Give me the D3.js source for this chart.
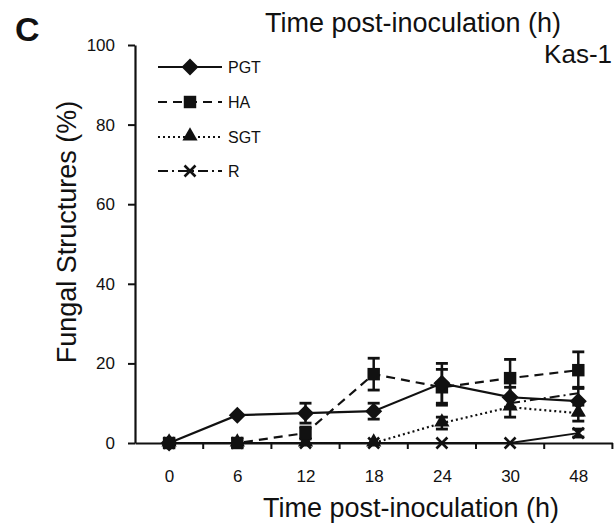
<!DOCTYPE html>
<html>
<head>
<meta charset="utf-8">
<script src="https://cdn.jsdelivr.net/npm/d3@7"></script>
<style>
  body { margin: 0; background: #fff; }
  svg text { font-family: "Liberation Sans", Arial, sans-serif; fill: #111; }
</style>
</head>
<body>
<svg id="chart" width="616" height="532"></svg>
<script>
// time points (h), shown as evenly spaced categories
var hours = ["0", "6", "12", "18", "24", "30", "48"]
var yTicks = [0, 20, 40, 60, 80, 100]

// mean % of fungal structures and error bars
var pgt = [0, 7, 7.5, 8, 15, 11.5, 10.5]
var pgtErr = [0, 0, 2.5, 2, 5, 2.5, 3.5]
var ha = [0, 0, 2.5, 17.3, 14, 16.3, 18.3]
var haErr = [0, 0, 1.5, 4, 4.5, 4.7, 4.6]
var sgt = [0, 0, 0, 0, 5, 9, 7.5]
var sgtErr = [0, 0, 0, 0, 1.5, 2.5, 2]
var r = [0, 0, 0, 0, 0, 0, 2.5]
var rErr = [0, 0, 0, 0, 0, 0, 1]
// stray dash-dot segment visible between 30 h and 48 h
var rUpper = [null, null, null, null, null, 10, 12.5]

var svg = d3.select("#chart")

var x = d3.scalePoint().domain(hours).range([135, 612.4]).padding(0.5)
var band = d3.scaleBand().domain(hours).range([135, 612.4])
var y = d3.scaleLinear().domain([0, 100]).range([443, 45])

// custom X marker (stroked)
var timesSymbol = {
    draw: function(ctx, size) {
        var h = Math.sqrt(size) / 2
        ctx.moveTo(-h, -h); ctx.lineTo(h, h)
        ctx.moveTo(h, -h); ctx.lineTo(-h, h)
    }
}

// plotDash is what the plotted line uses, dash what the legend shows
var series = [
    { name: "PGT", vals: pgt, err: pgtErr, dash: null, plotDash: null, shape: "diamond" },
    { name: "HA", vals: ha, err: haErr, dash: "9,6", plotDash: "9,6", shape: "square" },
    { name: "SGT", vals: sgt, err: sgtErr, dash: "2,3", plotDash: "2,3", shape: "triangle" },
    { name: "R", vals: r, err: rErr, dash: "10,4,2,4", plotDash: null, shape: "times" }
]

function drawMarker(g, shape, cx, cy) {
    if (shape == "diamond") {
        g.append("path").attr("d", d3.symbol(d3.symbolSquare, 145)())
            .attr("transform", "translate(" + cx + "," + cy + ") rotate(45)")
            .attr("fill", "#111")
    } else if (shape == "square") {
        g.append("path").attr("d", d3.symbol(d3.symbolSquare, 155)())
            .attr("transform", "translate(" + cx + "," + cy + ")")
            .attr("fill", "#111")
    } else if (shape == "triangle") {
        g.append("path").attr("d", d3.symbol(d3.symbolTriangle, 100)())
            .attr("transform", "translate(" + cx + "," + (cy - 1) + ")")
            .attr("fill", "#111")
    } else {
        g.append("path").attr("d", d3.symbol(timesSymbol, 120)())
            .attr("transform", "translate(" + cx + "," + cy + ")")
            .attr("fill", "none").attr("stroke", "#111").attr("stroke-width", 2.6)
    }
}

// axes
var yAxis = svg.append("g").attr("transform", "translate(135,0)")
    .call(d3.axisLeft(y).tickValues(yTicks).tickSize(7).tickPadding(13).tickSizeOuter(0))
yAxis.select(".domain").attr("stroke", "#111").attr("stroke-width", 2.2)
yAxis.selectAll(".tick line").attr("stroke", "#111").attr("stroke-width", 2)
yAxis.selectAll(".tick text").style("font-size", "17px").attr("fill", "#222")

var xAxis = svg.append("g").attr("transform", "translate(0," + y(0) + ")")
    .call(d3.axisBottom(x).tickSize(0).tickPadding(27).tickSizeOuter(0))
xAxis.select(".domain").attr("stroke", "#111").attr("stroke-width", 2.2)
xAxis.selectAll(".tick text").style("font-size", "17px").attr("fill", "#222")
// small ticks between the time points
xAxis.selectAll(".sep").data(hours.slice(1).concat(["end"]))
    .enter().append("line")
    .attr("x1", function(d, i) { return band(hours[0]) + band.step() * (i + 1) })
    .attr("x2", function(d, i) { return band(hours[0]) + band.step() * (i + 1) })
    .attr("y1", 0).attr("y2", 6)
    .attr("stroke", "#111").attr("stroke-width", 2)

// lines
var line = d3.line()
    .defined(function(d) { return d != null })
    .x(function(d, i) { return x(hours[i]) })
    .y(function(d) { return y(d) })

var plot = svg.append("g")

plot.append("path").datum(rUpper)
    .attr("d", line).attr("fill", "none")
    .attr("stroke", "#111").attr("stroke-width", 2).attr("stroke-dasharray", "10,4,2,4")

series.slice().reverse().forEach(function(s) {
    plot.append("path").datum(s.vals)
        .attr("d", line).attr("fill", "none")
        .attr("stroke", "#111").attr("stroke-width", s.name == "R" ? 1.8 : 2.2)
        .attr("stroke-dasharray", s.plotDash)
})

// error bars
series.forEach(function(s) {
    s.vals.forEach(function(v, i) {
        if (!s.err[i]) return
        var cx = x(hours[i])
        var top = y(v + s.err[i]), bot = y(Math.max(0, v - s.err[i]))
        plot.append("line").attr("x1", cx).attr("x2", cx).attr("y1", top).attr("y2", bot)
            .attr("stroke", "#111").attr("stroke-width", 2.5)
        ;[top, bot].forEach(function(yy) {
            plot.append("line").attr("x1", cx - 6).attr("x2", cx + 6).attr("y1", yy).attr("y2", yy)
                .attr("stroke", "#111").attr("stroke-width", 2.8)
        })
    })
})

// markers
series.slice().reverse().forEach(function(s) {
    s.vals.forEach(function(v, i) {
        drawMarker(plot, s.shape, x(hours[i]), y(v))
    })
})

// legend
var legendY = [67, 102, 137, 171]
var legend = svg.append("g")
series.forEach(function(s, i) {
    legend.append("line").attr("x1", 158).attr("x2", 222)
        .attr("y1", legendY[i]).attr("y2", legendY[i])
        .attr("stroke", "#111").attr("stroke-width", 2)
        .attr("stroke-dasharray", s.dash)
    drawMarker(legend, s.shape, 190, legendY[i])
    legend.append("text").attr("x", 228).attr("y", legendY[i] + 6)
        .style("font-size", "16px").text(s.name)
})

// titles
svg.append("text").attr("x", 15).attr("y", 41)
    .style("font-size", "34px").style("font-weight", "bold").text("C")
svg.append("text").attr("x", 413).attr("y", 32).attr("text-anchor", "middle")
    .style("font-size", "27px").text("Time post-inoculation (h)")
svg.append("text").attr("x", 612).attr("y", 63).attr("text-anchor", "end")
    .style("font-size", "26px").text("Kas-1")
svg.append("text").attr("x", 411).attr("y", 517).attr("text-anchor", "middle")
    .style("font-size", "27px").text("Time post-inoculation (h)")
svg.append("text").attr("transform", "translate(76,232) rotate(-90)")
    .attr("text-anchor", "middle")
    .style("font-size", "27px").text("Fungal Structures (%)")
</script>
</body>
</html>
